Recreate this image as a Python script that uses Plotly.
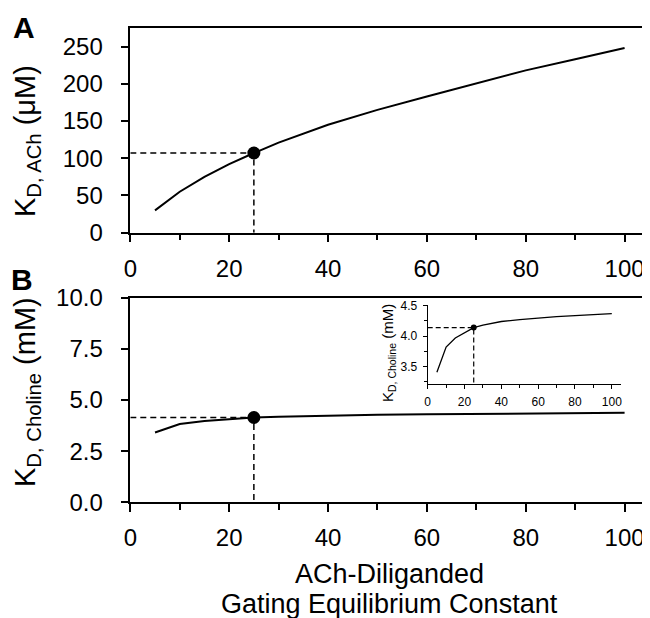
import plotly.graph_objects as go

# ---- data ----
gating_const = [5, 10, 15, 20, 25, 30, 40, 50, 60, 70, 80, 90, 100]
kd_ach_uM = [30, 55, 75, 92, 107, 121, 145, 165, 183, 201, 218, 233, 248]
kd_choline_mM = [3.41, 3.82, 3.97, 4.06, 4.14, 4.18, 4.24, 4.27, 4.30, 4.32, 4.335, 4.35, 4.37]
ref_x = 25
ref_ach = 107
ref_choline = 4.14

# page has an 8px body margin; figure coordinates are page coordinates minus 8
OFF = 8
W, H = 642, 610
FONT = "Liberation Sans, Arial, sans-serif"

def px_x(p):
    return (p - OFF) / W

def px_y(p):
    return 1 - (p - OFF) / H

fig = go.Figure()

line = dict(color="black", width=2)
dash = dict(color="black", width=1.5, dash="6px,4px")

# Panel A
fig.add_trace(go.Scatter(x=[0, ref_x, ref_x], y=[ref_ach, ref_ach, 0], mode="lines",
                         line=dash, xaxis="x", yaxis="y", hoverinfo="skip"))
fig.add_trace(go.Scatter(x=gating_const, y=kd_ach_uM, mode="lines", line=line,
                         xaxis="x", yaxis="y"))
fig.add_trace(go.Scatter(x=[ref_x], y=[ref_ach], mode="markers",
                         marker=dict(color="black", size=13), xaxis="x", yaxis="y"))

# Panel B
fig.add_trace(go.Scatter(x=[0, ref_x, ref_x], y=[ref_choline, ref_choline, 0], mode="lines",
                         line=dash, xaxis="x2", yaxis="y2", hoverinfo="skip"))
fig.add_trace(go.Scatter(x=gating_const, y=kd_choline_mM, mode="lines", line=line,
                         xaxis="x2", yaxis="y2"))
fig.add_trace(go.Scatter(x=[ref_x], y=[ref_choline], mode="markers",
                         marker=dict(color="black", size=13), xaxis="x2", yaxis="y2"))

# Inset
fig.add_trace(go.Scatter(x=[0, ref_x, ref_x], y=[ref_choline, ref_choline, 3.0], mode="lines",
                         line=dict(color="black", width=1.2, dash="5px,3px"),
                         xaxis="x3", yaxis="y3", hoverinfo="skip"))
fig.add_trace(go.Scatter(x=gating_const, y=kd_choline_mM, mode="lines",
                         line=dict(color="black", width=1.3), xaxis="x3", yaxis="y3"))
fig.add_trace(go.Scatter(x=[ref_x], y=[ref_choline], mode="markers",
                         marker=dict(color="black", size=6), xaxis="x3", yaxis="y3"))

main_dom_x = [px_x(130.3), px_x(649.3)]
tickfont = dict(family=FONT, size=24, color="black")

def xax(anchor, standoff):
    return dict(domain=main_dom_x, anchor=anchor, range=[0, 105], automargin=False,
                tickmode="array", tickvals=[0, 20, 40, 60, 80, 100],
                ticks="outside", ticklen=8, tickwidth=1.5, tickcolor="black",
                minor=dict(tickvals=[10, 30, 50, 70, 90], ticks="outside", ticklen=6,
                           tickwidth=1.5, tickcolor="black"),
                showline=True, linecolor="black", linewidth=1.5, mirror=True,
                showgrid=False, zeroline=False, tickfont=tickfont,
                ticklabelstandoff=standoff)

def yax(anchor, dom, rng, vals, text):
    return dict(domain=dom, anchor=anchor, range=rng, automargin=False,
                tickmode="array", tickvals=vals, ticktext=text,
                ticks="outside", ticklen=8, tickwidth=1.5, tickcolor="black",
                showline=True, linecolor="black", linewidth=1.5, mirror=True,
                showgrid=False, zeroline=False, tickfont=tickfont,
                ticklabelstandoff=13)

fig.update_layout(
    width=W, height=H,
    margin=dict(l=0, r=0, t=0, b=0, pad=0, autoexpand=False),
    paper_bgcolor="white", plot_bgcolor="white",
    showlegend=False,
    font=dict(family=FONT, color="black"),
    xaxis=xax("y", 6),
    yaxis=yax("x", [px_y(232.7), px_y(28.3)], [0, 274.5],
              [0, 50, 100, 150, 200, 250], ["0", "50", "100", "150", "200", "250"]),
    xaxis2=xax("y2", 5),
    yaxis2=yax("x2", [px_y(502.3), px_y(297.5)], [0, 10],
               [0, 2.5, 5, 7.5, 10], ["0.0", "2.5", "5.0", "7.5", "10.0"]),
    xaxis3=dict(domain=[px_x(427.7), px_x(621)], anchor="y3", range=[0, 105], automargin=False,
                tickmode="array", tickvals=[0, 20, 40, 60, 80, 100],
                ticks="outside", ticklen=4, tickwidth=1, tickcolor="black",
                minor=dict(tickvals=[10, 30, 50, 70, 90], ticks="outside", ticklen=3,
                           tickwidth=1, tickcolor="black"),
                showline=True, linecolor="black", linewidth=1, mirror=False,
                showgrid=False, zeroline=False,
                tickfont=dict(family=FONT, size=12, color="black"), ticklabelstandoff=3),
    yaxis3=dict(domain=[px_y(383.5), px_y(305)], anchor="x3", range=[3.225, 4.51], automargin=False,
                tickmode="array", tickvals=[3.5, 4.0, 4.5], ticktext=["3.5", "4.0", "4.5"],
                ticks="outside", ticklen=4, tickwidth=1, tickcolor="black",
                minor=dict(tickvals=[3.25, 3.75, 4.25], ticks="outside", ticklen=3,
                           tickwidth=1, tickcolor="black"),
                showline=True, linecolor="black", linewidth=1, mirror=False,
                showgrid=False, zeroline=False,
                tickfont=dict(family=FONT, size=12, color="black"), ticklabelstandoff=3),
)

annos = [
    dict(text="<b>A</b>", x=px_x(23.5), y=px_y(27.5), font=dict(size=30)),
    dict(text="<b>B</b>", x=px_x(21.5), y=px_y(279), font=dict(size=30)),
    dict(text="K<sub>D, ACh</sub> (μM)", x=px_x(27), y=px_y(141), textangle=-90,
         font=dict(size=29)),
    dict(text="K<sub>D, Choline</sub> (mM)", x=px_x(27), y=px_y(392), textangle=-90,
         font=dict(size=29)),
    dict(text="K<sub>D, Choline</sub> (mM)", x=px_x(388), y=px_y(353), textangle=-90,
         font=dict(size=15)),
    dict(text="ACh-Diliganded", x=px_x(390), y=px_y(574), font=dict(size=27)),
    dict(text="Gating Equilibrium Constant", x=px_x(390), y=px_y(604), font=dict(size=27)),
]
for a in annos:
    a.update(xref="paper", yref="paper", showarrow=False, xanchor="center", yanchor="middle")
    a["font"].update(family=FONT, color="black")
fig.update_layout(annotations=annos)

fig.write_html("out.html")
